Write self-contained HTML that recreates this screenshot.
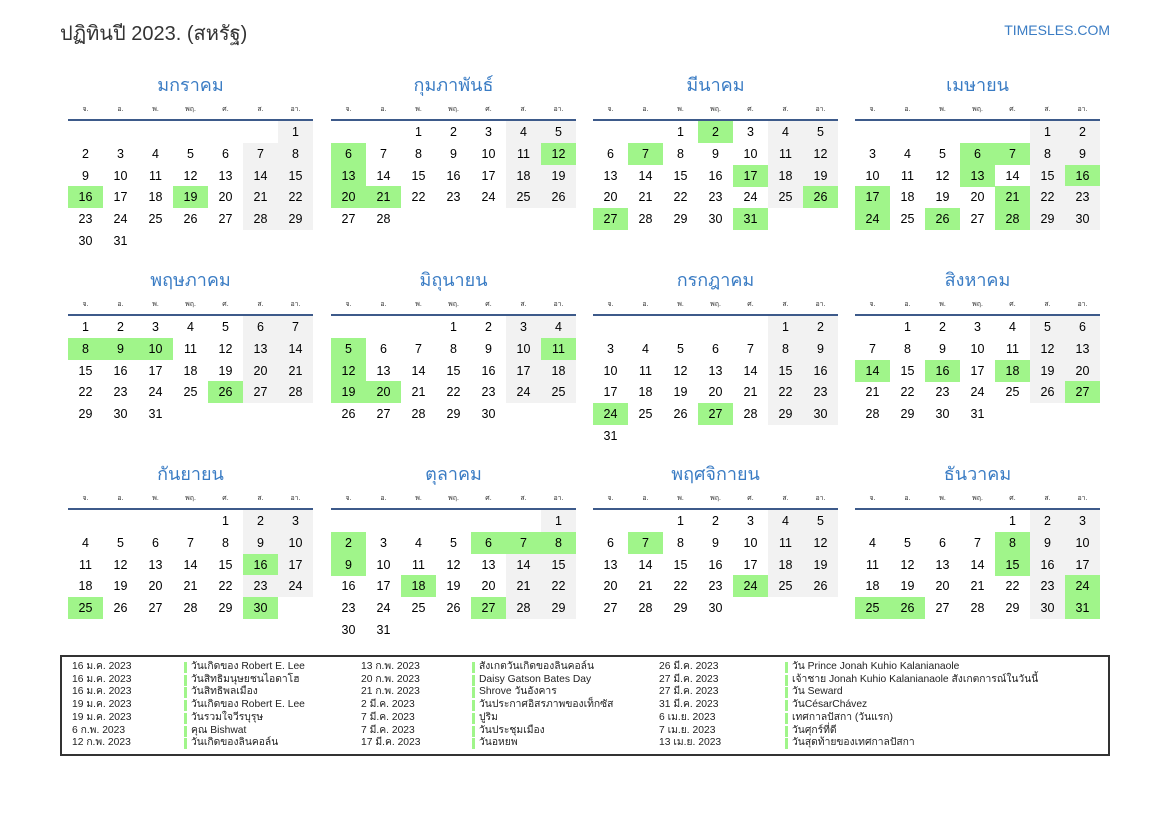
<!DOCTYPE html>
<html><head><meta charset="utf-8">
<style>
body{margin:0;width:1169px;height:827px;background:#fff;font-family:"Liberation Sans","DejaVu Sans",sans-serif;position:relative;overflow:hidden;color:#000}
.a{position:absolute;white-space:nowrap}
.title{left:60px;top:17px;font-size:20px;color:#333}
.site{right:59px;top:22px;font-size:14px;color:#3a7cc4}
.mt{font-size:18px;color:#3a7cc4;text-align:center;width:245px}
.dn{font-size:7px;color:#333;width:35px;text-align:center}
.ln{height:2px;background:#3d5a8a;width:245px}
.c{width:35px;height:22px;line-height:22px;text-align:center;font-size:12.5px}
.g{background:#f2f2f2}
.h{background:#a0f58a}
.box{left:60px;top:655px;width:1046px;height:97px;border:2px solid #333}
.lg{font-size:10.3px;color:#222;line-height:12.7px}
.bar{width:3px;height:11px;background:#a0f58a}
</style></head><body>
<div class="a title">ปฏิทินปี 2023. (สหรัฐ)</div>
<div class="a site">TIMESLES.COM</div>
<div id="cal"></div>
<div class="a box"></div>
<div id="leg"></div>
<script>
var names=["มกราคม","กุมภาพันธ์","มีนาคม","เมษายน","พฤษภาคม","มิถุนายน","กรกฎาคม","สิงหาคม","กันยายน","ตุลาคม","พฤศจิกายน","ธันวาคม"];
var start=[6,2,2,5,0,3,5,1,4,6,2,4];
var len=[31,28,31,30,31,30,31,31,30,31,30,31];
var hol=[[16,19],[6,12,13,20,21],[2,7,17,26,27,31],[6,7,13,16,17,21,24,26,28],[8,9,10,26],[5,11,12,19,20],[24,27],[14,16,18,27],[16,25,30],[2,6,7,8,9,18,27],[7,24],[8,15,24,25,26,31]];
var dn=["จ.","อ.","พ.","พฤ.","ศ.","ส.","อา."];
var xs=[68,331,593,855],ys=[0,195,389];
var h="";
for(var m=0;m<12;m++){
 var X=xs[m%4],Y=ys[Math.floor(m/4)];
 h+='<div class="a mt" style="left:'+X+'px;top:'+(Y+70)+'px">'+names[m]+'</div>';
 for(var i=0;i<7;i++)h+='<div class="a dn" style="left:'+(X+i*35)+'px;top:'+(Y+104)+'px">'+dn[i]+'</div>';
 h+='<div class="a ln" style="left:'+X+'px;top:'+(Y+119)+'px"></div>';
 for(var d=1;d<=len[m];d++){
  var p=start[m]+d-1,col=p%7,row=Math.floor(p/7);
  var cls="c";
  if(hol[m].indexOf(d)>=0)cls+=" h";else if(col>=5)cls+=" g";
  h+='<div class="a '+cls+'" style="left:'+(X+col*35)+'px;top:'+(Y+121+row*21.8)+'px">'+d+'</div>';
 }
}
document.getElementById("cal").innerHTML=h;
var L=[
[["16 ม.ค. 2023","วันเกิดของ Robert E. Lee"],["16 ม.ค. 2023","วันสิทธิมนุษยชนไอดาโฮ"],["16 ม.ค. 2023","วันสิทธิพลเมือง"],["19 ม.ค. 2023","วันเกิดของ Robert E. Lee"],["19 ม.ค. 2023","วันรวมใจวีรบุรุษ"],["6 ก.พ. 2023","คุณ Bishwat"],["12 ก.พ. 2023","วันเกิดของลินคอล์น"]],
[["13 ก.พ. 2023","สังเกตวันเกิดของลินคอล์น"],["20 ก.พ. 2023","Daisy Gatson Bates Day"],["21 ก.พ. 2023","Shrove วันอังคาร"],["2 มี.ค. 2023","วันประกาศอิสรภาพของเท็กซัส"],["7 มี.ค. 2023","ปูริม"],["7 มี.ค. 2023","วันประชุมเมือง"],["17 มี.ค. 2023","วันอหยพ"]],
[["26 มี.ค. 2023","วัน Prince Jonah Kuhio Kalanianaole"],["27 มี.ค. 2023","เจ้าชาย Jonah Kuhio Kalanianaole สังเกตการณ์ในวันนี้"],["27 มี.ค. 2023","วัน Seward"],["31 มี.ค. 2023","วันCésarChávez"],["6 เม.ย. 2023","เทศกาลปัสกา (วันแรก)"],["7 เม.ย. 2023","วันศุกร์ที่ดี"],["13 เม.ย. 2023","วันสุดท้ายของเทศกาลปัสกา"]]];
var lx=[[72,184],[361,472],[659,785]];
h="";
for(var c=0;c<3;c++)for(var r=0;r<7;r++){
 var y=661+r*12.7;
 h+='<div class="a lg" style="left:'+lx[c][0]+'px;top:'+y+'px">'+L[c][r][0]+'</div>';
 h+='<div class="a bar" style="left:'+lx[c][1]+'px;top:'+(y+1)+'px"></div>';
 h+='<div class="a lg" style="left:'+(lx[c][1]+7)+'px;top:'+y+'px">'+L[c][r][1]+'</div>';
}
document.getElementById("leg").innerHTML=h;
</script>
</body></html>
